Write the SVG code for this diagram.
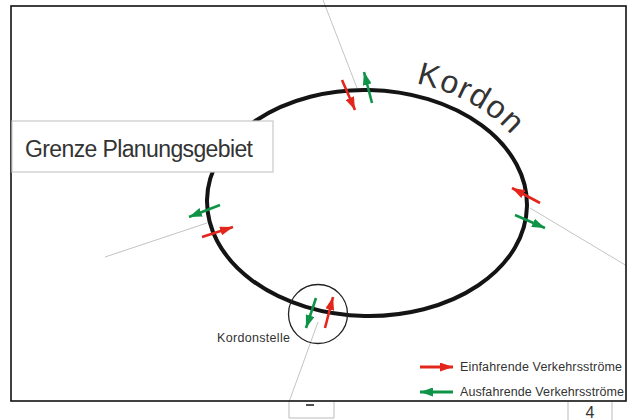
<svg xmlns="http://www.w3.org/2000/svg" width="631" height="420" viewBox="0 0 631 420">
<style>
.frame{fill:none;stroke:#111;stroke-width:1.6}
.guide{fill:none;stroke:#c4c4c4;stroke-width:1}
.cordon{fill:none;stroke:#141414;stroke-width:4}
.red{fill:none;stroke:#e3261b;stroke-width:2.6}
.green{fill:none;stroke:#0f9447;stroke-width:2.6}
.lbl{font-family:"Liberation Sans",Arial,sans-serif;fill:#333}
.box{fill:#fff;stroke:#c8c8c8;stroke-width:1.2}
</style>
<defs>
<marker id="hr" viewBox="0 0 13 9" refX="13" refY="4.5" markerWidth="13" markerHeight="9" markerUnits="userSpaceOnUse" orient="auto"><path d="M0,0 L13,4.5 L0,9 z" fill="#e3261b"/></marker>
<marker id="hg" viewBox="0 0 13 9" refX="13" refY="4.5" markerWidth="13" markerHeight="9" markerUnits="userSpaceOnUse" orient="auto"><path d="M0,0 L13,4.5 L0,9 z" fill="#0f9447"/></marker>
<path id="kpath" d="M195,203 A172 125 0 0 1 539,203"/>
</defs>
<rect width="631" height="420" fill="#fff"/>
<g id="connectors">
<line class="guide" x1="323" y1="0" x2="357" y2="88"/>
<line class="guide" x1="105" y1="257" x2="207" y2="223"/>
<line class="guide" x1="530" y1="208" x2="627" y2="266"/>
<line class="guide" x1="289" y1="402" x2="318" y2="322"/>
</g>
<rect id="frame" class="frame" x="11" y="6" width="615" height="395"/>
<g id="kordon">
<ellipse class="cordon" cx="367" cy="203" rx="160" ry="113" transform="rotate(1.2 367 203)"/>
<text class="lbl" font-size="32" fill="#222"><textPath href="#kpath" startOffset="284" textLength="110">Kordon</textPath></text>
</g>
<g id="grenze">
<rect class="box" x="12" y="121" width="261" height="51"/>
<text class="lbl" x="25" y="157" font-size="23" textLength="228">Grenze Planungsgebiet</text>
</g>
<g id="arrows">
<line class="red" x1="342" y1="80" x2="355" y2="110" marker-end="url(#hr)"/>
<line class="green" x1="372" y1="103" x2="364" y2="72" marker-end="url(#hg)"/>
<line class="green" x1="220" y1="205" x2="189" y2="217" marker-end="url(#hg)"/>
<line class="red" x1="202" y1="237" x2="233" y2="227" marker-end="url(#hr)"/>
<line class="red" x1="540" y1="203" x2="512" y2="188" marker-end="url(#hr)"/>
<line class="green" x1="515" y1="215" x2="545" y2="228" marker-end="url(#hg)"/>
<line class="green" x1="316" y1="298" x2="306" y2="328" marker-end="url(#hg)"/>
<line class="red" x1="325" y1="328" x2="333" y2="297" marker-end="url(#hr)"/>
</g>
<g id="kordonstelle">
<circle cx="318" cy="314" r="29.5" fill="none" stroke="#222" stroke-width="1.3"/>
<text class="lbl" x="217" y="342" font-size="12.5" textLength="73">Kordonstelle</text>
</g>
<g id="legend">
<line class="red" x1="420" y1="367" x2="453" y2="367" marker-end="url(#hr)" style="stroke-width:3"/>
<text class="lbl" x="460" y="371" font-size="12.5" textLength="162">Einfahrende Verkehrsströme</text>
<line class="green" x1="453" y1="392" x2="420" y2="392" marker-end="url(#hg)" style="stroke-width:3"/>
<text class="lbl" x="460" y="396" font-size="12.5" textLength="164">Ausfahrende Verkehrsströme</text>
</g>
<g id="pagebox1">
<path d="M289,402 V418 H334 V402" fill="none" stroke="#bbb" stroke-width="1"/>
<line x1="306" y1="405" x2="314" y2="405" stroke="#222" stroke-width="1.6"/>
</g>
<g id="pagebox2">
<path d="M568,402 V420 M612,402 V420" fill="none" stroke="#bbb" stroke-width="1"/>
<text class="lbl" x="590" y="418" font-size="16" text-anchor="middle" fill="#222">4</text>
</g>
</svg>
